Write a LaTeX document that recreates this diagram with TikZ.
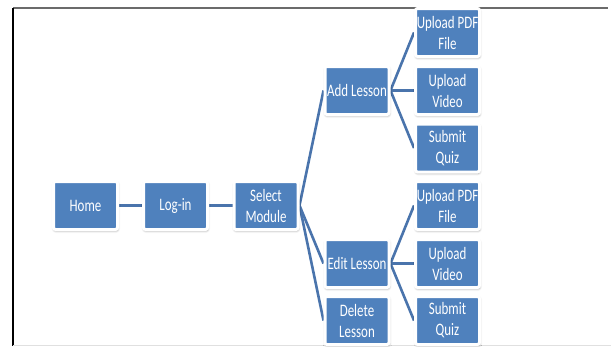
\documentclass[tikz,border=0pt]{standalone}
\usepackage{fontspec}
\setmainfont{Carlito}
\newfontfamily\boxfont[FakeStretch=0.74]{Carlito}
\usetikzlibrary{shadows.blur,backgrounds}
\definecolor{boxblue}{HTML}{4F81BD}
\definecolor{linkblue}{HTML}{4A74AC}
\tikzset{
  box/.style={rectangle, rounded corners=2pt, fill=boxblue, draw=white,
    line width=3pt, minimum width=64pt, minimum height=48pt, inner sep=1pt,
    text=white, align=center,
    font=\boxfont\fontsize{17.5}{21}\selectfont,
    blur shadow={shadow xshift=0.4pt, shadow yshift=-1.3pt,
      shadow blur radius=2.2pt, shadow blur extra rounding=1pt,
      shadow opacity=45}},
  link/.style={draw=linkblue, line width=2.6pt}
}
\begin{document}
\begin{tikzpicture}[x=1pt, y=-1pt]
  \useasboundingbox (0,0) rectangle (611,346);
  % page frame
  \draw[line width=2pt, color=black!58] (13,8) -- (608,8);
  \draw[line width=1.2pt, black] (13,8) -- (13,346);
  \draw[line width=1pt, black!12] (13,345) -- (611,345);

  % main chain
  \node[box] (home)   at (85.5,205.5) {Home};
  \node[box] (login)  at (175.5,205.5) {Log-in};
  \node[box] (select) at (266,205.5) {Select\\Module};

  % lesson actions
  \node[box] (add)  at (357,90.5)  {Add Lesson};
  \node[box] (edit) at (357,263.5) {Edit Lesson};
  \node[box] (del)  at (357,320.5) {Delete\\Lesson};

  % add lesson tasks
  \node[box] (apdf)  at (447.5,32.5)  {Upload PDF\\File};
  \node[box] (avid)  at (447.5,90.5)  {Upload\\Video};
  \node[box] (aquiz) at (447.5,148)   {Submit\\Quiz};

  % edit lesson tasks
  \node[box] (epdf)  at (447.5,205.5) {Upload PDF\\File};
  \node[box] (evid)  at (447.5,263.5) {Upload\\Video};
  \node[box] (equiz) at (447.5,320.5) {Submit\\Quiz};

  % connectors, drawn beneath the boxes
  \begin{scope}[on background layer]
    \draw[link] (home.east) -- (login.west);
    \draw[link] (login.east) -- (select.west);
    \foreach \t in {add, edit, del}
      \draw[link] (select.east) -- (\t.west);
    \foreach \t in {apdf, avid, aquiz}
      \draw[link] (add.east) -- (\t.west);
    \foreach \t in {epdf, evid, equiz}
      \draw[link] (edit.east) -- (\t.west);
  \end{scope}
\end{tikzpicture}
\end{document}
